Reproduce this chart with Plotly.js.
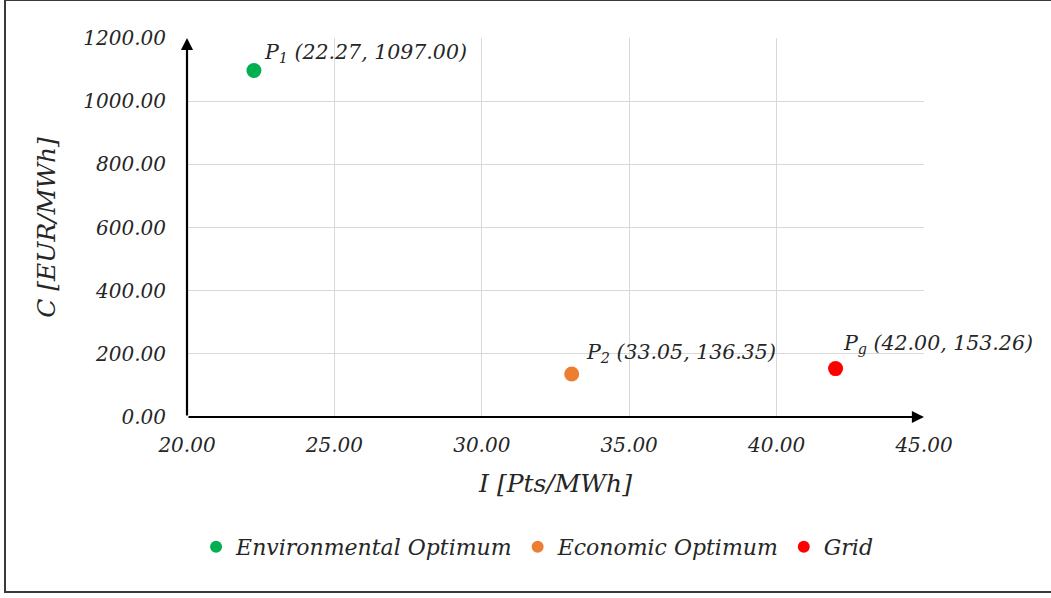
<!DOCTYPE html>
<html>
<head>
<meta charset="utf-8">
<script src="https://cdn.plot.ly/plotly-3.0.1.min.js"></script>
<style>
  html, body { margin: 0; padding: 0; background: #fff; }
  #frame { position: absolute; left: 4px; top: -1px; width: 1060px; height: 594px; border: 2px solid #3a3a3a; box-sizing: border-box; }
  #chart { position: absolute; left: 0; top: 0; width: 1051px; height: 598px; }
</style>
</head>
<body>
<div id="chart"></div>
<div id="frame"></div>
<script>
// Data
const seriesNames = ["Environmental Optimum", "Economic Optimum", "Grid"];
const pointLabels = ["1", "2", "g"];
const xValues = [22.27, 33.05, 42.00];
const yValues = [1097.00, 136.35, 153.26];
const colors = ["#00b050", "#ed7d31", "#ff0000"];
const xTicks = [20, 25, 30, 35, 40, 45];
const yTicks = [0, 200, 400, 600, 800, 1000, 1200];

const FONT = "DejaVu Serif";
const txt = "#262626";

const traces = seriesNames.map((n, i) => ({
  type: "scatter", mode: "markers", name: n,
  x: [xValues[i]], y: [yValues[i]],
  marker: { color: colors[i], size: 15 },
  hoverinfo: "skip"
}));

const shifts = [[8, 18], [12, 21], [5, 25]];
const labelAnn = xValues.map((x, i) => ({
  x: x, y: yValues[i], xref: "x", yref: "y",
  text: "P<sub>" + pointLabels[i] + "</sub> (" + x.toFixed(2) + ", " + yValues[i].toFixed(2) + ")",
  showarrow: false, xanchor: "left", yanchor: "middle",
  xshift: shifts[i][0], yshift: shifts[i][1],
  font: { family: FONT, size: 20.5, color: txt, style: "italic" }
}));

const arrows = [
  { x: xTicks[xTicks.length - 1], y: yTicks[0], ax: xTicks[0], ay: yTicks[0] },
  { x: xTicks[0], y: yTicks[yTicks.length - 1], ax: xTicks[0], ay: yTicks[0] }
].map(a => Object.assign(a, {
  xref: "x", yref: "y", axref: "x", ayref: "y", text: "",
  showarrow: true, arrowhead: 2, arrowsize: 1.1, arrowwidth: 2.2, arrowcolor: "#000", standoff: 0, startstandoff: 0
}));

const layout = {
  width: 1051, height: 598,
  margin: { l: 187, r: 127, t: 38, b: 181 },
  paper_bgcolor: "#fff", plot_bgcolor: "#fff",
  font: { family: FONT, color: txt },
  showlegend: true,
  legend: {
    orientation: "h", x: 0.475, xanchor: "center", y: -0.343, yanchor: "middle",
    font: { family: FONT, size: 22, color: txt, style: "italic" },
    itemsizing: "constant", traceorder: "normal", itemwidth: 30
  },
  xaxis: {
    range: [20, 45], tickvals: xTicks, tickformat: ".2f",
    showgrid: true, gridcolor: "#d9d9d9", gridwidth: 1.3, zeroline: false, showline: false,
    ticks: "", ticklabelstandoff: 14,
    tickfont: { family: FONT, size: 20, color: txt, style: "italic" },
    title: { text: "I [Pts/MWh]", standoff: 18, font: { family: FONT, size: 25, color: txt, style: "italic" } },
    fixedrange: true
  },
  yaxis: {
    range: [0, 1200], tickvals: yTicks, tickformat: ".2f",
    showgrid: true, gridcolor: "#d9d9d9", gridwidth: 1.3, zeroline: false, showline: false,
    ticks: "", ticklabelstandoff: 20,
    tickfont: { family: FONT, size: 20, color: txt, style: "italic" },
    title: { text: "C [EUR/MWh]", standoff: 20, font: { family: FONT, size: 25, color: txt, style: "italic" } },
    fixedrange: true
  },
  annotations: arrows.concat(labelAnn)
};

Plotly.newPlot("chart", traces, layout, { displayModeBar: false, staticPlot: true });
</script>
</body>
</html>
